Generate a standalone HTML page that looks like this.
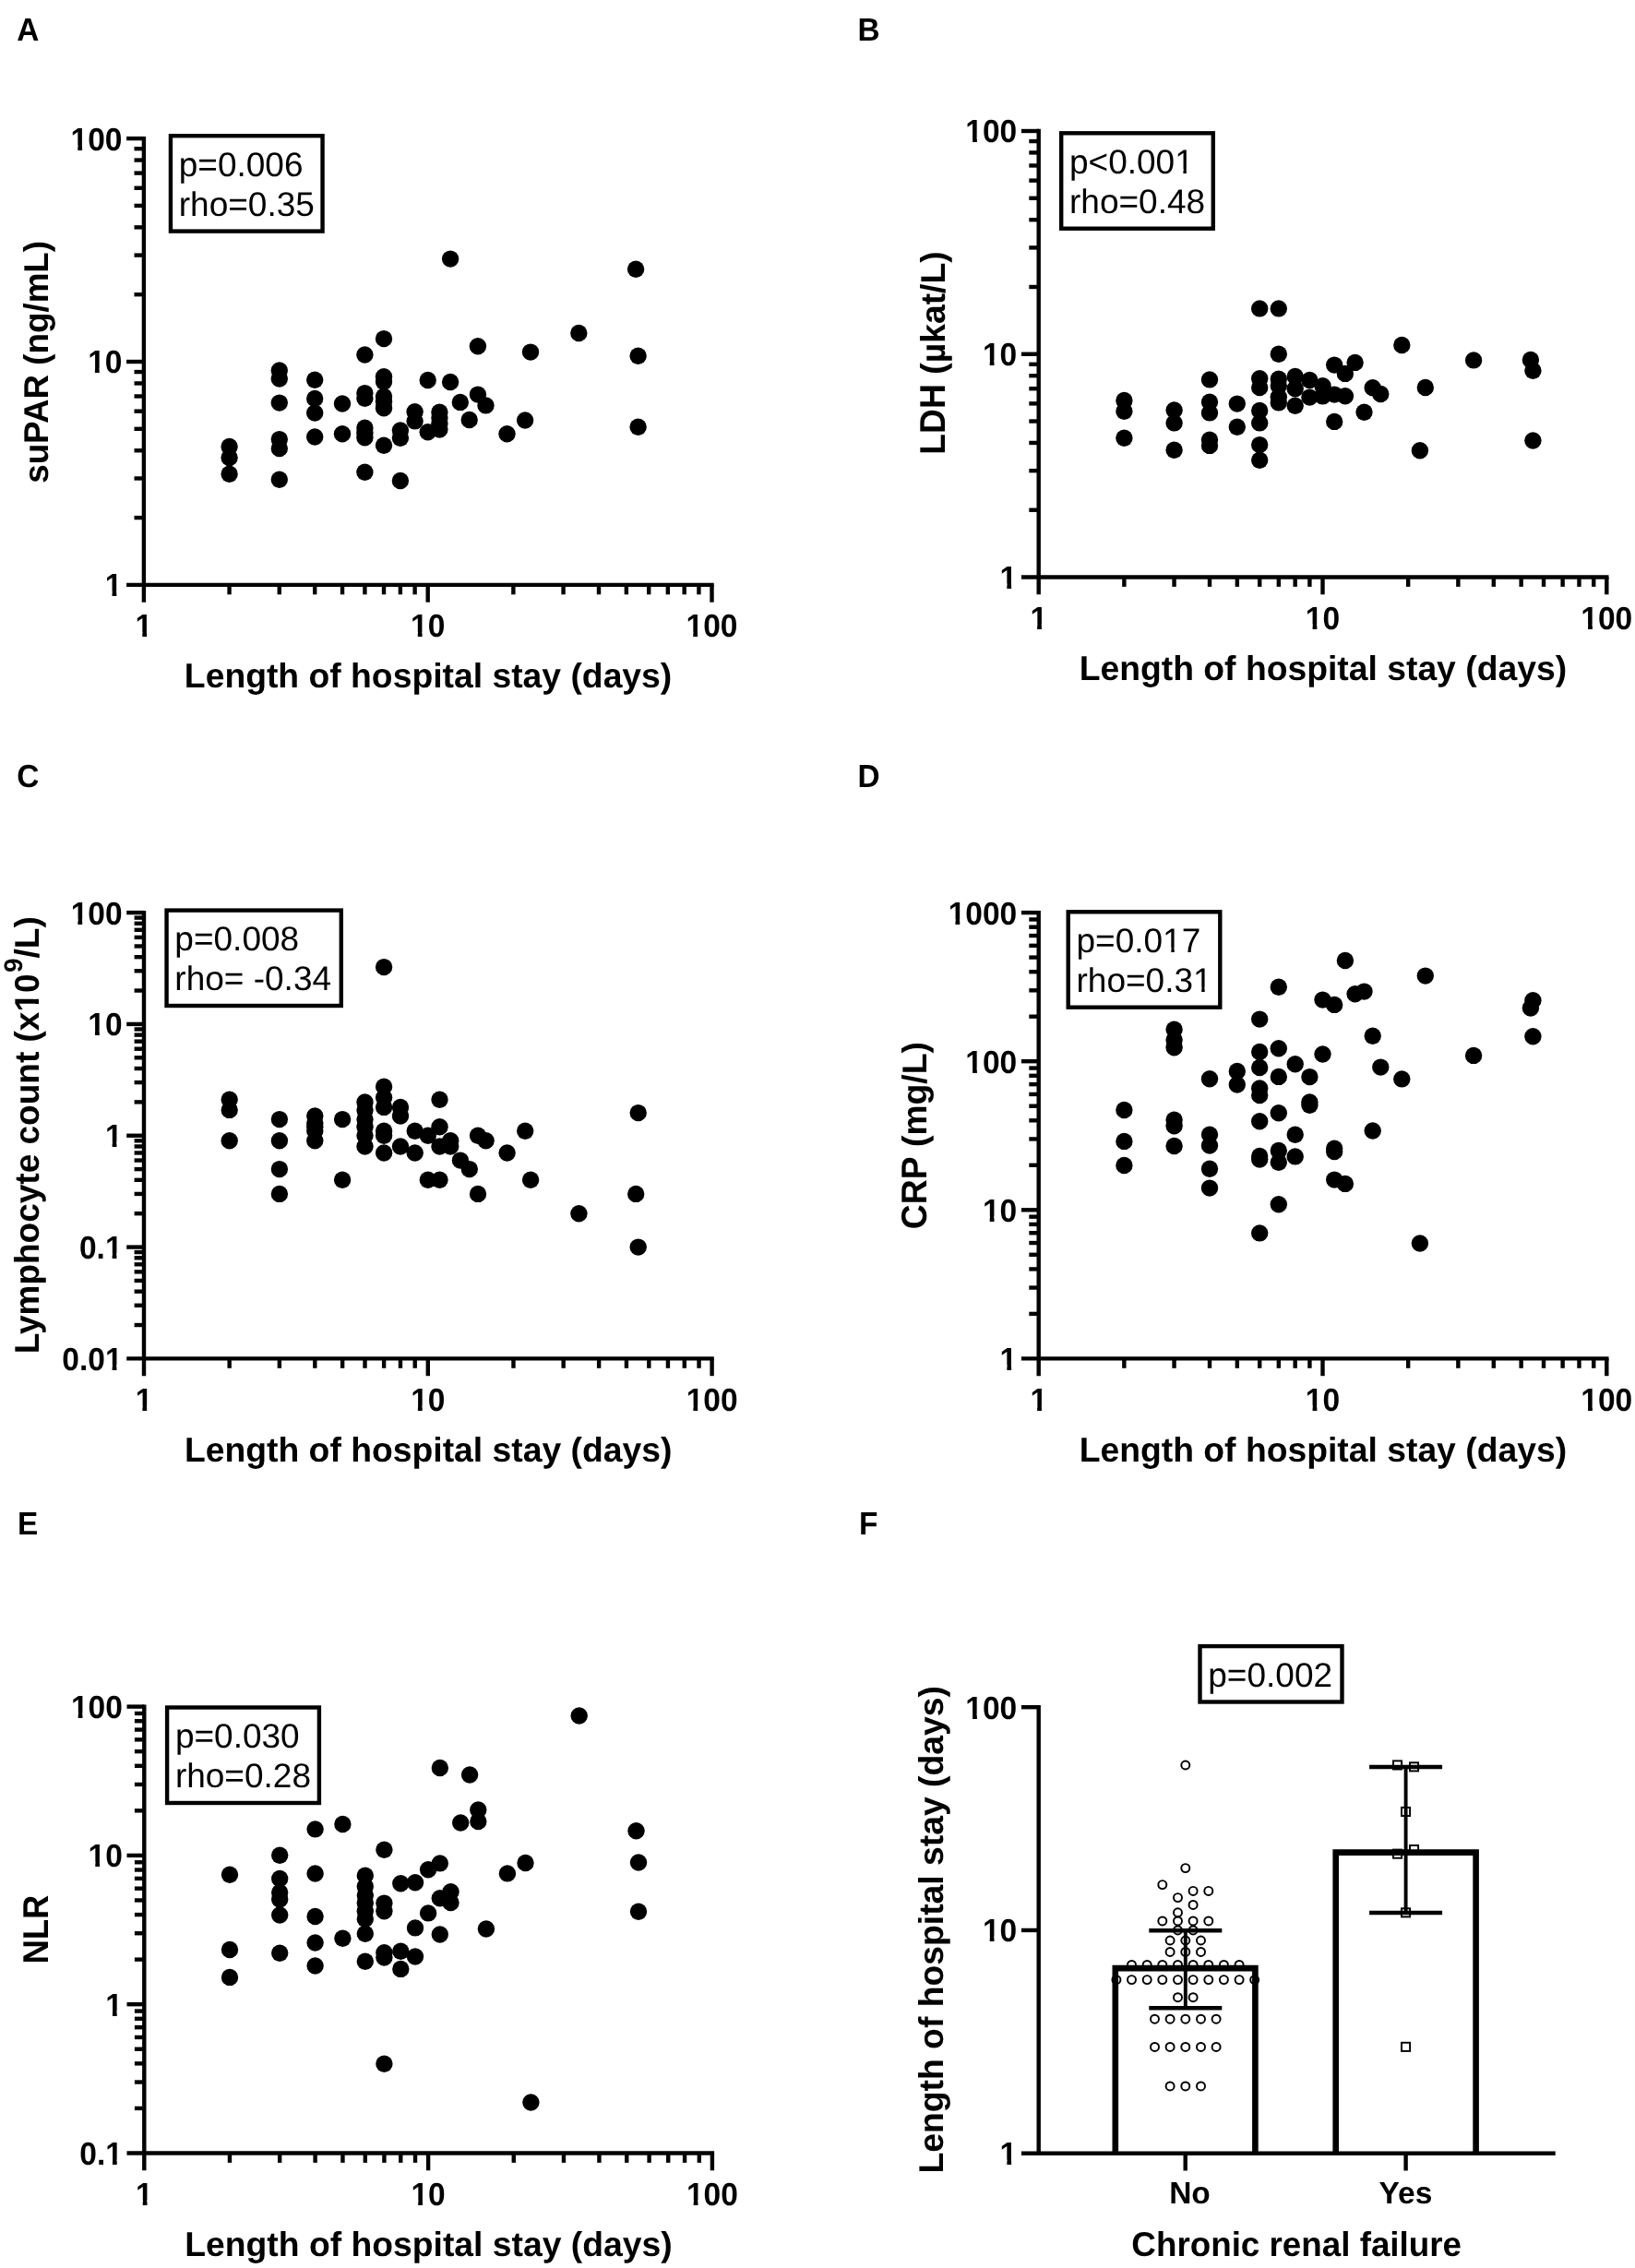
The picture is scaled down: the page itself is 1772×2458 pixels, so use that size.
<!DOCTYPE html>
<html lang="en">
<head>
<meta charset="utf-8">
<title>Figure</title>
<style>
html,body{margin:0;padding:0;background:#fff;}
body{width:1772px;height:2458px;overflow:hidden;font-family:"Liberation Sans", Arial, Helvetica, sans-serif;}
svg{display:block;filter:blur(0.45px);}
</style>
</head>
<body>
<svg width="1772" height="2458" viewBox="0 0 1772 2458" font-family='"Liberation Sans", Arial, Helvetica, sans-serif' fill="#000" text-rendering="geometricPrecision">
<rect width="1772" height="2458" fill="#fff"/>
<g id="pA">
<text x="18.30" y="44.20" font-size="34.75" font-weight="bold" textLength="24.12" lengthAdjust="spacingAndGlyphs">A</text>
<line x1="155.90" y1="147.90" x2="155.90" y2="652.70" stroke="#000" stroke-width="4.4" stroke-linecap="butt"/>
<line x1="137.10" y1="633.90" x2="773.70" y2="633.90" stroke="#000" stroke-width="4.4" stroke-linecap="butt"/>
<line x1="137.10" y1="150.10" x2="155.90" y2="150.10" stroke="#000" stroke-width="4.4" stroke-linecap="butt"/>
<line x1="145.50" y1="319.18" x2="155.90" y2="319.18" stroke="#000" stroke-width="4.4" stroke-linecap="butt"/>
<line x1="145.50" y1="276.58" x2="155.90" y2="276.58" stroke="#000" stroke-width="4.4" stroke-linecap="butt"/>
<line x1="145.50" y1="246.36" x2="155.90" y2="246.36" stroke="#000" stroke-width="4.4" stroke-linecap="butt"/>
<line x1="145.50" y1="222.92" x2="155.90" y2="222.92" stroke="#000" stroke-width="4.4" stroke-linecap="butt"/>
<line x1="145.50" y1="203.77" x2="155.90" y2="203.77" stroke="#000" stroke-width="4.4" stroke-linecap="butt"/>
<line x1="145.50" y1="187.57" x2="155.90" y2="187.57" stroke="#000" stroke-width="4.4" stroke-linecap="butt"/>
<line x1="145.50" y1="173.54" x2="155.90" y2="173.54" stroke="#000" stroke-width="4.4" stroke-linecap="butt"/>
<line x1="145.50" y1="161.17" x2="155.90" y2="161.17" stroke="#000" stroke-width="4.4" stroke-linecap="butt"/>
<text x="76.56" y="162.50" font-size="34.86" font-weight="bold" textLength="55.89" lengthAdjust="spacingAndGlyphs">100</text>
<g fill="#fff"><rect x="77.47" y="156.94" width="6.81" height="7.06"/><rect x="89.07" y="156.94" width="6.38" height="7.06"/></g>
<line x1="137.10" y1="392.00" x2="155.90" y2="392.00" stroke="#000" stroke-width="4.4" stroke-linecap="butt"/>
<line x1="145.50" y1="561.08" x2="155.90" y2="561.08" stroke="#000" stroke-width="4.4" stroke-linecap="butt"/>
<line x1="145.50" y1="518.48" x2="155.90" y2="518.48" stroke="#000" stroke-width="4.4" stroke-linecap="butt"/>
<line x1="145.50" y1="488.26" x2="155.90" y2="488.26" stroke="#000" stroke-width="4.4" stroke-linecap="butt"/>
<line x1="145.50" y1="464.82" x2="155.90" y2="464.82" stroke="#000" stroke-width="4.4" stroke-linecap="butt"/>
<line x1="145.50" y1="445.67" x2="155.90" y2="445.67" stroke="#000" stroke-width="4.4" stroke-linecap="butt"/>
<line x1="145.50" y1="429.47" x2="155.90" y2="429.47" stroke="#000" stroke-width="4.4" stroke-linecap="butt"/>
<line x1="145.50" y1="415.44" x2="155.90" y2="415.44" stroke="#000" stroke-width="4.4" stroke-linecap="butt"/>
<line x1="145.50" y1="403.07" x2="155.90" y2="403.07" stroke="#000" stroke-width="4.4" stroke-linecap="butt"/>
<text x="95.19" y="404.40" font-size="34.86" font-weight="bold" textLength="37.26" lengthAdjust="spacingAndGlyphs">10</text>
<g fill="#fff"><rect x="96.10" y="398.84" width="6.81" height="7.06"/><rect x="107.70" y="398.84" width="6.38" height="7.06"/></g>
<text x="113.82" y="646.30" font-size="34.86" font-weight="bold" textLength="18.63" lengthAdjust="spacingAndGlyphs">1</text>
<g fill="#fff"><rect x="114.73" y="640.74" width="6.81" height="7.06"/><rect x="126.33" y="640.74" width="6.38" height="7.06"/></g>
<line x1="248.56" y1="633.90" x2="248.56" y2="644.30" stroke="#000" stroke-width="4.4" stroke-linecap="butt"/>
<line x1="302.76" y1="633.90" x2="302.76" y2="644.30" stroke="#000" stroke-width="4.4" stroke-linecap="butt"/>
<line x1="341.21" y1="633.90" x2="341.21" y2="644.30" stroke="#000" stroke-width="4.4" stroke-linecap="butt"/>
<line x1="371.04" y1="633.90" x2="371.04" y2="644.30" stroke="#000" stroke-width="4.4" stroke-linecap="butt"/>
<line x1="395.41" y1="633.90" x2="395.41" y2="644.30" stroke="#000" stroke-width="4.4" stroke-linecap="butt"/>
<line x1="416.02" y1="633.90" x2="416.02" y2="644.30" stroke="#000" stroke-width="4.4" stroke-linecap="butt"/>
<line x1="433.87" y1="633.90" x2="433.87" y2="644.30" stroke="#000" stroke-width="4.4" stroke-linecap="butt"/>
<line x1="449.62" y1="633.90" x2="449.62" y2="644.30" stroke="#000" stroke-width="4.4" stroke-linecap="butt"/>
<text x="146.58" y="690.40" font-size="34.86" font-weight="bold" textLength="18.63" lengthAdjust="spacingAndGlyphs">1</text>
<g fill="#fff"><rect x="147.49" y="684.84" width="6.81" height="7.06"/><rect x="159.10" y="684.84" width="6.38" height="7.06"/></g>
<line x1="463.70" y1="633.90" x2="463.70" y2="652.70" stroke="#000" stroke-width="4.4" stroke-linecap="butt"/>
<line x1="556.36" y1="633.90" x2="556.36" y2="644.30" stroke="#000" stroke-width="4.4" stroke-linecap="butt"/>
<line x1="610.56" y1="633.90" x2="610.56" y2="644.30" stroke="#000" stroke-width="4.4" stroke-linecap="butt"/>
<line x1="649.01" y1="633.90" x2="649.01" y2="644.30" stroke="#000" stroke-width="4.4" stroke-linecap="butt"/>
<line x1="678.84" y1="633.90" x2="678.84" y2="644.30" stroke="#000" stroke-width="4.4" stroke-linecap="butt"/>
<line x1="703.21" y1="633.90" x2="703.21" y2="644.30" stroke="#000" stroke-width="4.4" stroke-linecap="butt"/>
<line x1="723.82" y1="633.90" x2="723.82" y2="644.30" stroke="#000" stroke-width="4.4" stroke-linecap="butt"/>
<line x1="741.67" y1="633.90" x2="741.67" y2="644.30" stroke="#000" stroke-width="4.4" stroke-linecap="butt"/>
<line x1="757.42" y1="633.90" x2="757.42" y2="644.30" stroke="#000" stroke-width="4.4" stroke-linecap="butt"/>
<text x="445.07" y="690.40" font-size="34.86" font-weight="bold" textLength="37.26" lengthAdjust="spacingAndGlyphs">10</text>
<g fill="#fff"><rect x="445.98" y="684.84" width="6.81" height="7.06"/><rect x="457.58" y="684.84" width="6.38" height="7.06"/></g>
<line x1="771.50" y1="633.90" x2="771.50" y2="652.70" stroke="#000" stroke-width="4.4" stroke-linecap="butt"/>
<text x="743.55" y="690.40" font-size="34.86" font-weight="bold" textLength="55.89" lengthAdjust="spacingAndGlyphs">100</text>
<g fill="#fff"><rect x="744.46" y="684.84" width="6.81" height="7.06"/><rect x="756.07" y="684.84" width="6.38" height="7.06"/></g>
<g><text xml:space="preserve" x="199.87" y="745.00" font-size="37.30" font-weight="bold">Length of hospital stay (days)</text></g>
<g transform="rotate(-90 51.70 392.40)"><text xml:space="preserve" x="-79.73" y="392.40" font-size="37.30" font-weight="bold" textLength="262.87" lengthAdjust="spacingAndGlyphs">suPAR (ng/mL)</text></g>
<rect x="184.95" y="147.20" width="164.60" height="103.40" fill="none" stroke="#000" stroke-width="4.4"/>
<text x="193.75" y="190.60" font-size="37.00">p=0.006</text>
<text x="193.75" y="233.60" font-size="37.00">rho=0.35</text>
<circle cx="248.6" cy="483.9" r="9.2"/>
<circle cx="248.6" cy="495.9" r="9.2"/>
<circle cx="248.6" cy="513.7" r="9.2"/>
<circle cx="302.8" cy="401.4" r="9.2"/>
<circle cx="302.8" cy="410.6" r="9.2"/>
<circle cx="302.8" cy="436.6" r="9.2"/>
<circle cx="302.8" cy="476.1" r="9.2"/>
<circle cx="302.8" cy="486.1" r="9.2"/>
<circle cx="302.8" cy="519.7" r="9.2"/>
<circle cx="341.2" cy="411.8" r="9.2"/>
<circle cx="341.2" cy="432.0" r="9.2"/>
<circle cx="341.2" cy="447.6" r="9.2"/>
<circle cx="341.2" cy="473.5" r="9.2"/>
<circle cx="371.0" cy="437.5" r="9.2"/>
<circle cx="371.0" cy="470.2" r="9.2"/>
<circle cx="395.4" cy="384.5" r="9.2"/>
<circle cx="395.4" cy="426.1" r="9.2"/>
<circle cx="395.4" cy="431.7" r="9.2"/>
<circle cx="395.4" cy="463.8" r="9.2"/>
<circle cx="395.4" cy="469.3" r="9.2"/>
<circle cx="395.4" cy="474.2" r="9.2"/>
<circle cx="395.4" cy="511.8" r="9.2"/>
<circle cx="416.0" cy="367.1" r="9.2"/>
<circle cx="416.0" cy="408.2" r="9.2"/>
<circle cx="416.0" cy="413.7" r="9.2"/>
<circle cx="416.0" cy="429.8" r="9.2"/>
<circle cx="416.0" cy="435.3" r="9.2"/>
<circle cx="416.0" cy="442.3" r="9.2"/>
<circle cx="416.0" cy="482.7" r="9.2"/>
<circle cx="433.9" cy="466.5" r="9.2"/>
<circle cx="433.9" cy="474.8" r="9.2"/>
<circle cx="433.9" cy="521.0" r="9.2"/>
<circle cx="449.6" cy="446.3" r="9.2"/>
<circle cx="449.6" cy="456.4" r="9.2"/>
<circle cx="463.7" cy="412.0" r="9.2"/>
<circle cx="463.7" cy="468.3" r="9.2"/>
<circle cx="476.4" cy="446.7" r="9.2"/>
<circle cx="476.4" cy="452.8" r="9.2"/>
<circle cx="476.4" cy="459.2" r="9.2"/>
<circle cx="476.4" cy="465.6" r="9.2"/>
<circle cx="488.1" cy="280.6" r="9.2"/>
<circle cx="488.1" cy="414.0" r="9.2"/>
<circle cx="498.8" cy="435.9" r="9.2"/>
<circle cx="508.7" cy="455.0" r="9.2"/>
<circle cx="517.9" cy="375.3" r="9.2"/>
<circle cx="517.9" cy="427.6" r="9.2"/>
<circle cx="526.5" cy="439.4" r="9.2"/>
<circle cx="549.5" cy="470.2" r="9.2"/>
<circle cx="569.1" cy="455.5" r="9.2"/>
<circle cx="575.0" cy="381.6" r="9.2"/>
<circle cx="627.3" cy="361.0" r="9.2"/>
<circle cx="689.1" cy="291.7" r="9.2"/>
<circle cx="691.6" cy="385.8" r="9.2"/>
<circle cx="691.6" cy="462.8" r="9.2"/>
</g>
<g id="pB">
<text x="929.40" y="44.30" font-size="34.75" font-weight="bold" textLength="24.12" lengthAdjust="spacingAndGlyphs">B</text>
<line x1="1125.70" y1="139.80" x2="1125.70" y2="644.30" stroke="#000" stroke-width="4.4" stroke-linecap="butt"/>
<line x1="1106.90" y1="625.50" x2="1743.50" y2="625.50" stroke="#000" stroke-width="4.4" stroke-linecap="butt"/>
<line x1="1106.90" y1="142.00" x2="1125.70" y2="142.00" stroke="#000" stroke-width="4.4" stroke-linecap="butt"/>
<line x1="1115.30" y1="310.98" x2="1125.70" y2="310.98" stroke="#000" stroke-width="4.4" stroke-linecap="butt"/>
<line x1="1115.30" y1="268.41" x2="1125.70" y2="268.41" stroke="#000" stroke-width="4.4" stroke-linecap="butt"/>
<line x1="1115.30" y1="238.20" x2="1125.70" y2="238.20" stroke="#000" stroke-width="4.4" stroke-linecap="butt"/>
<line x1="1115.30" y1="214.77" x2="1125.70" y2="214.77" stroke="#000" stroke-width="4.4" stroke-linecap="butt"/>
<line x1="1115.30" y1="195.63" x2="1125.70" y2="195.63" stroke="#000" stroke-width="4.4" stroke-linecap="butt"/>
<line x1="1115.30" y1="179.45" x2="1125.70" y2="179.45" stroke="#000" stroke-width="4.4" stroke-linecap="butt"/>
<line x1="1115.30" y1="165.43" x2="1125.70" y2="165.43" stroke="#000" stroke-width="4.4" stroke-linecap="butt"/>
<line x1="1115.30" y1="153.06" x2="1125.70" y2="153.06" stroke="#000" stroke-width="4.4" stroke-linecap="butt"/>
<text x="1046.36" y="154.40" font-size="34.86" font-weight="bold" textLength="55.89" lengthAdjust="spacingAndGlyphs">100</text>
<g fill="#fff"><rect x="1047.27" y="148.84" width="6.81" height="7.06"/><rect x="1058.87" y="148.84" width="6.38" height="7.06"/></g>
<line x1="1106.90" y1="383.75" x2="1125.70" y2="383.75" stroke="#000" stroke-width="4.4" stroke-linecap="butt"/>
<line x1="1115.30" y1="552.73" x2="1125.70" y2="552.73" stroke="#000" stroke-width="4.4" stroke-linecap="butt"/>
<line x1="1115.30" y1="510.16" x2="1125.70" y2="510.16" stroke="#000" stroke-width="4.4" stroke-linecap="butt"/>
<line x1="1115.30" y1="479.95" x2="1125.70" y2="479.95" stroke="#000" stroke-width="4.4" stroke-linecap="butt"/>
<line x1="1115.30" y1="456.52" x2="1125.70" y2="456.52" stroke="#000" stroke-width="4.4" stroke-linecap="butt"/>
<line x1="1115.30" y1="437.38" x2="1125.70" y2="437.38" stroke="#000" stroke-width="4.4" stroke-linecap="butt"/>
<line x1="1115.30" y1="421.20" x2="1125.70" y2="421.20" stroke="#000" stroke-width="4.4" stroke-linecap="butt"/>
<line x1="1115.30" y1="407.18" x2="1125.70" y2="407.18" stroke="#000" stroke-width="4.4" stroke-linecap="butt"/>
<line x1="1115.30" y1="394.81" x2="1125.70" y2="394.81" stroke="#000" stroke-width="4.4" stroke-linecap="butt"/>
<text x="1064.99" y="396.15" font-size="34.86" font-weight="bold" textLength="37.26" lengthAdjust="spacingAndGlyphs">10</text>
<g fill="#fff"><rect x="1065.90" y="390.59" width="6.81" height="7.06"/><rect x="1077.50" y="390.59" width="6.38" height="7.06"/></g>
<text x="1083.62" y="637.90" font-size="34.86" font-weight="bold" textLength="18.63" lengthAdjust="spacingAndGlyphs">1</text>
<g fill="#fff"><rect x="1084.53" y="632.34" width="6.81" height="7.06"/><rect x="1096.13" y="632.34" width="6.38" height="7.06"/></g>
<line x1="1218.36" y1="625.50" x2="1218.36" y2="635.90" stroke="#000" stroke-width="4.4" stroke-linecap="butt"/>
<line x1="1272.56" y1="625.50" x2="1272.56" y2="635.90" stroke="#000" stroke-width="4.4" stroke-linecap="butt"/>
<line x1="1311.01" y1="625.50" x2="1311.01" y2="635.90" stroke="#000" stroke-width="4.4" stroke-linecap="butt"/>
<line x1="1340.84" y1="625.50" x2="1340.84" y2="635.90" stroke="#000" stroke-width="4.4" stroke-linecap="butt"/>
<line x1="1365.21" y1="625.50" x2="1365.21" y2="635.90" stroke="#000" stroke-width="4.4" stroke-linecap="butt"/>
<line x1="1385.82" y1="625.50" x2="1385.82" y2="635.90" stroke="#000" stroke-width="4.4" stroke-linecap="butt"/>
<line x1="1403.67" y1="625.50" x2="1403.67" y2="635.90" stroke="#000" stroke-width="4.4" stroke-linecap="butt"/>
<line x1="1419.42" y1="625.50" x2="1419.42" y2="635.90" stroke="#000" stroke-width="4.4" stroke-linecap="butt"/>
<text x="1116.38" y="682.00" font-size="34.86" font-weight="bold" textLength="18.63" lengthAdjust="spacingAndGlyphs">1</text>
<g fill="#fff"><rect x="1117.29" y="676.44" width="6.81" height="7.06"/><rect x="1128.90" y="676.44" width="6.38" height="7.06"/></g>
<line x1="1433.50" y1="625.50" x2="1433.50" y2="644.30" stroke="#000" stroke-width="4.4" stroke-linecap="butt"/>
<line x1="1526.16" y1="625.50" x2="1526.16" y2="635.90" stroke="#000" stroke-width="4.4" stroke-linecap="butt"/>
<line x1="1580.36" y1="625.50" x2="1580.36" y2="635.90" stroke="#000" stroke-width="4.4" stroke-linecap="butt"/>
<line x1="1618.81" y1="625.50" x2="1618.81" y2="635.90" stroke="#000" stroke-width="4.4" stroke-linecap="butt"/>
<line x1="1648.64" y1="625.50" x2="1648.64" y2="635.90" stroke="#000" stroke-width="4.4" stroke-linecap="butt"/>
<line x1="1673.01" y1="625.50" x2="1673.01" y2="635.90" stroke="#000" stroke-width="4.4" stroke-linecap="butt"/>
<line x1="1693.62" y1="625.50" x2="1693.62" y2="635.90" stroke="#000" stroke-width="4.4" stroke-linecap="butt"/>
<line x1="1711.47" y1="625.50" x2="1711.47" y2="635.90" stroke="#000" stroke-width="4.4" stroke-linecap="butt"/>
<line x1="1727.22" y1="625.50" x2="1727.22" y2="635.90" stroke="#000" stroke-width="4.4" stroke-linecap="butt"/>
<text x="1414.87" y="682.00" font-size="34.86" font-weight="bold" textLength="37.26" lengthAdjust="spacingAndGlyphs">10</text>
<g fill="#fff"><rect x="1415.78" y="676.44" width="6.81" height="7.06"/><rect x="1427.38" y="676.44" width="6.38" height="7.06"/></g>
<line x1="1741.30" y1="625.50" x2="1741.30" y2="644.30" stroke="#000" stroke-width="4.4" stroke-linecap="butt"/>
<text x="1713.35" y="682.00" font-size="34.86" font-weight="bold" textLength="55.89" lengthAdjust="spacingAndGlyphs">100</text>
<g fill="#fff"><rect x="1714.26" y="676.44" width="6.81" height="7.06"/><rect x="1725.87" y="676.44" width="6.38" height="7.06"/></g>
<g><text xml:space="preserve" x="1169.67" y="736.60" font-size="37.30" font-weight="bold">Length of hospital stay (days)</text></g>
<g transform="rotate(-90 1023.60 382.50)"><text xml:space="preserve" x="913.39" y="382.50" font-size="38.81" font-weight="bold" textLength="76.66" lengthAdjust="spacingAndGlyphs">LDH</text><text xml:space="preserve" x="990.05" y="382.50" font-size="37.30" font-weight="bold"> (µkat/L)</text></g>
<rect x="1150.20" y="144.30" width="164.60" height="103.40" fill="none" stroke="#000" stroke-width="4.4"/>
<text x="1159.00" y="187.70" font-size="37.00">p&lt;0.001</text>
<g fill="#fff"><rect x="1274.82" y="182.94" width="7.59" height="6.26"/><rect x="1285.87" y="182.94" width="7.30" height="6.26"/></g>
<text x="1159.00" y="230.70" font-size="37.00">rho=0.48</text>
<circle cx="1218.4" cy="434.0" r="9.2"/>
<circle cx="1218.4" cy="445.7" r="9.2"/>
<circle cx="1218.4" cy="474.8" r="9.2"/>
<circle cx="1272.6" cy="444.5" r="9.2"/>
<circle cx="1272.6" cy="458.4" r="9.2"/>
<circle cx="1272.6" cy="487.8" r="9.2"/>
<circle cx="1311.0" cy="411.4" r="9.2"/>
<circle cx="1311.0" cy="435.7" r="9.2"/>
<circle cx="1311.0" cy="447.4" r="9.2"/>
<circle cx="1311.0" cy="476.8" r="9.2"/>
<circle cx="1311.0" cy="482.9" r="9.2"/>
<circle cx="1340.8" cy="437.6" r="9.2"/>
<circle cx="1340.8" cy="462.8" r="9.2"/>
<circle cx="1365.2" cy="334.4" r="9.2"/>
<circle cx="1365.2" cy="410.2" r="9.2"/>
<circle cx="1365.2" cy="420.0" r="9.2"/>
<circle cx="1365.2" cy="445.0" r="9.2"/>
<circle cx="1365.2" cy="458.4" r="9.2"/>
<circle cx="1365.2" cy="482.1" r="9.2"/>
<circle cx="1365.2" cy="498.8" r="9.2"/>
<circle cx="1385.8" cy="334.4" r="9.2"/>
<circle cx="1385.8" cy="383.8" r="9.2"/>
<circle cx="1385.8" cy="410.7" r="9.2"/>
<circle cx="1385.8" cy="418.0" r="9.2"/>
<circle cx="1385.8" cy="430.3" r="9.2"/>
<circle cx="1385.8" cy="436.4" r="9.2"/>
<circle cx="1403.7" cy="408.0" r="9.2"/>
<circle cx="1403.7" cy="421.2" r="9.2"/>
<circle cx="1403.7" cy="439.8" r="9.2"/>
<circle cx="1419.4" cy="412.0" r="9.2"/>
<circle cx="1419.4" cy="430.6" r="9.2"/>
<circle cx="1433.5" cy="418.2" r="9.2"/>
<circle cx="1433.5" cy="429.4" r="9.2"/>
<circle cx="1446.2" cy="395.6" r="9.2"/>
<circle cx="1446.2" cy="427.6" r="9.2"/>
<circle cx="1446.2" cy="456.9" r="9.2"/>
<circle cx="1457.9" cy="404.9" r="9.2"/>
<circle cx="1457.9" cy="429.2" r="9.2"/>
<circle cx="1468.6" cy="392.9" r="9.2"/>
<circle cx="1478.5" cy="446.8" r="9.2"/>
<circle cx="1487.7" cy="420.3" r="9.2"/>
<circle cx="1496.3" cy="427.0" r="9.2"/>
<circle cx="1519.3" cy="374.0" r="9.2"/>
<circle cx="1538.9" cy="488.2" r="9.2"/>
<circle cx="1544.8" cy="420.0" r="9.2"/>
<circle cx="1597.1" cy="390.4" r="9.2"/>
<circle cx="1658.9" cy="389.9" r="9.2"/>
<circle cx="1661.4" cy="401.8" r="9.2"/>
<circle cx="1661.4" cy="477.5" r="9.2"/>
</g>
<g id="pC">
<text x="18.20" y="853.30" font-size="34.75" font-weight="bold" textLength="24.12" lengthAdjust="spacingAndGlyphs">C</text>
<line x1="156.00" y1="986.90" x2="156.00" y2="1491.20" stroke="#000" stroke-width="4.4" stroke-linecap="butt"/>
<line x1="137.20" y1="1472.40" x2="773.80" y2="1472.40" stroke="#000" stroke-width="4.4" stroke-linecap="butt"/>
<line x1="137.20" y1="989.10" x2="156.00" y2="989.10" stroke="#000" stroke-width="4.4" stroke-linecap="butt"/>
<line x1="145.60" y1="1073.55" x2="156.00" y2="1073.55" stroke="#000" stroke-width="4.4" stroke-linecap="butt"/>
<line x1="145.60" y1="1052.28" x2="156.00" y2="1052.28" stroke="#000" stroke-width="4.4" stroke-linecap="butt"/>
<line x1="145.60" y1="1037.18" x2="156.00" y2="1037.18" stroke="#000" stroke-width="4.4" stroke-linecap="butt"/>
<line x1="145.60" y1="1025.47" x2="156.00" y2="1025.47" stroke="#000" stroke-width="4.4" stroke-linecap="butt"/>
<line x1="145.60" y1="1015.90" x2="156.00" y2="1015.90" stroke="#000" stroke-width="4.4" stroke-linecap="butt"/>
<line x1="145.60" y1="1007.82" x2="156.00" y2="1007.82" stroke="#000" stroke-width="4.4" stroke-linecap="butt"/>
<line x1="145.60" y1="1000.81" x2="156.00" y2="1000.81" stroke="#000" stroke-width="4.4" stroke-linecap="butt"/>
<line x1="145.60" y1="994.63" x2="156.00" y2="994.63" stroke="#000" stroke-width="4.4" stroke-linecap="butt"/>
<text x="76.66" y="1001.50" font-size="34.86" font-weight="bold" textLength="55.89" lengthAdjust="spacingAndGlyphs">100</text>
<g fill="#fff"><rect x="77.57" y="995.94" width="6.81" height="7.06"/><rect x="89.17" y="995.94" width="6.38" height="7.06"/></g>
<line x1="137.20" y1="1109.92" x2="156.00" y2="1109.92" stroke="#000" stroke-width="4.4" stroke-linecap="butt"/>
<line x1="145.60" y1="1194.38" x2="156.00" y2="1194.38" stroke="#000" stroke-width="4.4" stroke-linecap="butt"/>
<line x1="145.60" y1="1173.10" x2="156.00" y2="1173.10" stroke="#000" stroke-width="4.4" stroke-linecap="butt"/>
<line x1="145.60" y1="1158.01" x2="156.00" y2="1158.01" stroke="#000" stroke-width="4.4" stroke-linecap="butt"/>
<line x1="145.60" y1="1146.30" x2="156.00" y2="1146.30" stroke="#000" stroke-width="4.4" stroke-linecap="butt"/>
<line x1="145.60" y1="1136.73" x2="156.00" y2="1136.73" stroke="#000" stroke-width="4.4" stroke-linecap="butt"/>
<line x1="145.60" y1="1128.64" x2="156.00" y2="1128.64" stroke="#000" stroke-width="4.4" stroke-linecap="butt"/>
<line x1="145.60" y1="1121.63" x2="156.00" y2="1121.63" stroke="#000" stroke-width="4.4" stroke-linecap="butt"/>
<line x1="145.60" y1="1115.45" x2="156.00" y2="1115.45" stroke="#000" stroke-width="4.4" stroke-linecap="butt"/>
<text x="95.29" y="1122.33" font-size="34.86" font-weight="bold" textLength="37.26" lengthAdjust="spacingAndGlyphs">10</text>
<g fill="#fff"><rect x="96.20" y="1116.77" width="6.81" height="7.06"/><rect x="107.80" y="1116.77" width="6.38" height="7.06"/></g>
<line x1="137.20" y1="1230.75" x2="156.00" y2="1230.75" stroke="#000" stroke-width="4.4" stroke-linecap="butt"/>
<line x1="145.60" y1="1315.20" x2="156.00" y2="1315.20" stroke="#000" stroke-width="4.4" stroke-linecap="butt"/>
<line x1="145.60" y1="1293.93" x2="156.00" y2="1293.93" stroke="#000" stroke-width="4.4" stroke-linecap="butt"/>
<line x1="145.60" y1="1278.83" x2="156.00" y2="1278.83" stroke="#000" stroke-width="4.4" stroke-linecap="butt"/>
<line x1="145.60" y1="1267.12" x2="156.00" y2="1267.12" stroke="#000" stroke-width="4.4" stroke-linecap="butt"/>
<line x1="145.60" y1="1257.55" x2="156.00" y2="1257.55" stroke="#000" stroke-width="4.4" stroke-linecap="butt"/>
<line x1="145.60" y1="1249.47" x2="156.00" y2="1249.47" stroke="#000" stroke-width="4.4" stroke-linecap="butt"/>
<line x1="145.60" y1="1242.46" x2="156.00" y2="1242.46" stroke="#000" stroke-width="4.4" stroke-linecap="butt"/>
<line x1="145.60" y1="1236.28" x2="156.00" y2="1236.28" stroke="#000" stroke-width="4.4" stroke-linecap="butt"/>
<text x="113.92" y="1243.15" font-size="34.86" font-weight="bold" textLength="18.63" lengthAdjust="spacingAndGlyphs">1</text>
<g fill="#fff"><rect x="114.83" y="1237.59" width="6.81" height="7.06"/><rect x="126.43" y="1237.59" width="6.38" height="7.06"/></g>
<line x1="137.20" y1="1351.58" x2="156.00" y2="1351.58" stroke="#000" stroke-width="4.4" stroke-linecap="butt"/>
<line x1="145.60" y1="1436.03" x2="156.00" y2="1436.03" stroke="#000" stroke-width="4.4" stroke-linecap="butt"/>
<line x1="145.60" y1="1414.75" x2="156.00" y2="1414.75" stroke="#000" stroke-width="4.4" stroke-linecap="butt"/>
<line x1="145.60" y1="1399.66" x2="156.00" y2="1399.66" stroke="#000" stroke-width="4.4" stroke-linecap="butt"/>
<line x1="145.60" y1="1387.95" x2="156.00" y2="1387.95" stroke="#000" stroke-width="4.4" stroke-linecap="butt"/>
<line x1="145.60" y1="1378.38" x2="156.00" y2="1378.38" stroke="#000" stroke-width="4.4" stroke-linecap="butt"/>
<line x1="145.60" y1="1370.29" x2="156.00" y2="1370.29" stroke="#000" stroke-width="4.4" stroke-linecap="butt"/>
<line x1="145.60" y1="1363.28" x2="156.00" y2="1363.28" stroke="#000" stroke-width="4.4" stroke-linecap="butt"/>
<line x1="145.60" y1="1357.10" x2="156.00" y2="1357.10" stroke="#000" stroke-width="4.4" stroke-linecap="butt"/>
<text x="85.98" y="1363.98" font-size="34.86" font-weight="bold" textLength="46.57" lengthAdjust="spacingAndGlyphs">0.1</text>
<g fill="#fff"><rect x="114.83" y="1358.42" width="6.81" height="7.06"/><rect x="126.43" y="1358.42" width="6.38" height="7.06"/></g>
<text x="67.35" y="1484.80" font-size="34.86" font-weight="bold" textLength="65.20" lengthAdjust="spacingAndGlyphs">0.01</text>
<g fill="#fff"><rect x="114.83" y="1479.24" width="6.81" height="7.06"/><rect x="126.43" y="1479.24" width="6.38" height="7.06"/></g>
<line x1="248.66" y1="1472.40" x2="248.66" y2="1482.80" stroke="#000" stroke-width="4.4" stroke-linecap="butt"/>
<line x1="302.86" y1="1472.40" x2="302.86" y2="1482.80" stroke="#000" stroke-width="4.4" stroke-linecap="butt"/>
<line x1="341.31" y1="1472.40" x2="341.31" y2="1482.80" stroke="#000" stroke-width="4.4" stroke-linecap="butt"/>
<line x1="371.14" y1="1472.40" x2="371.14" y2="1482.80" stroke="#000" stroke-width="4.4" stroke-linecap="butt"/>
<line x1="395.51" y1="1472.40" x2="395.51" y2="1482.80" stroke="#000" stroke-width="4.4" stroke-linecap="butt"/>
<line x1="416.12" y1="1472.40" x2="416.12" y2="1482.80" stroke="#000" stroke-width="4.4" stroke-linecap="butt"/>
<line x1="433.97" y1="1472.40" x2="433.97" y2="1482.80" stroke="#000" stroke-width="4.4" stroke-linecap="butt"/>
<line x1="449.72" y1="1472.40" x2="449.72" y2="1482.80" stroke="#000" stroke-width="4.4" stroke-linecap="butt"/>
<text x="146.68" y="1528.90" font-size="34.86" font-weight="bold" textLength="18.63" lengthAdjust="spacingAndGlyphs">1</text>
<g fill="#fff"><rect x="147.59" y="1523.34" width="6.81" height="7.06"/><rect x="159.20" y="1523.34" width="6.38" height="7.06"/></g>
<line x1="463.80" y1="1472.40" x2="463.80" y2="1491.20" stroke="#000" stroke-width="4.4" stroke-linecap="butt"/>
<line x1="556.46" y1="1472.40" x2="556.46" y2="1482.80" stroke="#000" stroke-width="4.4" stroke-linecap="butt"/>
<line x1="610.66" y1="1472.40" x2="610.66" y2="1482.80" stroke="#000" stroke-width="4.4" stroke-linecap="butt"/>
<line x1="649.11" y1="1472.40" x2="649.11" y2="1482.80" stroke="#000" stroke-width="4.4" stroke-linecap="butt"/>
<line x1="678.94" y1="1472.40" x2="678.94" y2="1482.80" stroke="#000" stroke-width="4.4" stroke-linecap="butt"/>
<line x1="703.31" y1="1472.40" x2="703.31" y2="1482.80" stroke="#000" stroke-width="4.4" stroke-linecap="butt"/>
<line x1="723.92" y1="1472.40" x2="723.92" y2="1482.80" stroke="#000" stroke-width="4.4" stroke-linecap="butt"/>
<line x1="741.77" y1="1472.40" x2="741.77" y2="1482.80" stroke="#000" stroke-width="4.4" stroke-linecap="butt"/>
<line x1="757.52" y1="1472.40" x2="757.52" y2="1482.80" stroke="#000" stroke-width="4.4" stroke-linecap="butt"/>
<text x="445.17" y="1528.90" font-size="34.86" font-weight="bold" textLength="37.26" lengthAdjust="spacingAndGlyphs">10</text>
<g fill="#fff"><rect x="446.08" y="1523.34" width="6.81" height="7.06"/><rect x="457.68" y="1523.34" width="6.38" height="7.06"/></g>
<line x1="771.60" y1="1472.40" x2="771.60" y2="1491.20" stroke="#000" stroke-width="4.4" stroke-linecap="butt"/>
<text x="743.65" y="1528.90" font-size="34.86" font-weight="bold" textLength="55.89" lengthAdjust="spacingAndGlyphs">100</text>
<g fill="#fff"><rect x="744.56" y="1523.34" width="6.81" height="7.06"/><rect x="756.17" y="1523.34" width="6.38" height="7.06"/></g>
<g><text xml:space="preserve" x="199.97" y="1583.50" font-size="37.30" font-weight="bold">Length of hospital stay (days)</text></g>
<text x="-194.64" y="1230.3" font-size="37.3" font-weight="bold" transform="rotate(-90 42.4 1230.3)" textLength="474.09" lengthAdjust="spacingAndGlyphs">Lymphocyte count (x10<tspan dx="1.5" dy="-18.2" font-size="28.09">9</tspan><tspan dy="18.2">/L)</tspan></text>
<g fill="#fff" transform="rotate(-90 42.4 1230.3)"><rect x="177.23" y="1224.49" width="7.41" height="7.31"/><rect x="189.91" y="1224.49" width="6.94" height="7.31"/></g>
<rect x="180.55" y="986.60" width="189.25" height="103.40" fill="none" stroke="#000" stroke-width="4.4"/>
<text x="189.35" y="1030.00" font-size="37.00">p=0.008</text>
<text x="189.35" y="1073.00" font-size="37.00">rho= -0.34</text>
<circle cx="248.7" cy="1191.8" r="9.2"/>
<circle cx="248.7" cy="1202.9" r="9.2"/>
<circle cx="248.7" cy="1236.3" r="9.2"/>
<circle cx="302.9" cy="1213.1" r="9.2"/>
<circle cx="302.9" cy="1236.3" r="9.2"/>
<circle cx="302.9" cy="1267.1" r="9.2"/>
<circle cx="302.9" cy="1293.9" r="9.2"/>
<circle cx="341.3" cy="1209.5" r="9.2"/>
<circle cx="341.3" cy="1217.0" r="9.2"/>
<circle cx="341.3" cy="1225.7" r="9.2"/>
<circle cx="341.3" cy="1236.3" r="9.2"/>
<circle cx="341.3" cy="1221.2" r="9.2"/>
<circle cx="371.1" cy="1213.1" r="9.2"/>
<circle cx="371.1" cy="1278.8" r="9.2"/>
<circle cx="395.5" cy="1194.4" r="9.2"/>
<circle cx="395.5" cy="1202.9" r="9.2"/>
<circle cx="395.5" cy="1213.1" r="9.2"/>
<circle cx="395.5" cy="1221.2" r="9.2"/>
<circle cx="395.5" cy="1230.8" r="9.2"/>
<circle cx="395.5" cy="1242.5" r="9.2"/>
<circle cx="416.1" cy="1048.1" r="9.2"/>
<circle cx="416.1" cy="1177.7" r="9.2"/>
<circle cx="416.1" cy="1189.4" r="9.2"/>
<circle cx="416.1" cy="1199.9" r="9.2"/>
<circle cx="416.1" cy="1225.7" r="9.2"/>
<circle cx="416.1" cy="1230.8" r="9.2"/>
<circle cx="416.1" cy="1249.5" r="9.2"/>
<circle cx="434.0" cy="1199.9" r="9.2"/>
<circle cx="434.0" cy="1209.5" r="9.2"/>
<circle cx="434.0" cy="1242.5" r="9.2"/>
<circle cx="449.7" cy="1225.7" r="9.2"/>
<circle cx="449.7" cy="1249.5" r="9.2"/>
<circle cx="463.8" cy="1230.8" r="9.2"/>
<circle cx="463.8" cy="1278.8" r="9.2"/>
<circle cx="476.5" cy="1191.8" r="9.2"/>
<circle cx="476.5" cy="1221.2" r="9.2"/>
<circle cx="476.5" cy="1242.5" r="9.2"/>
<circle cx="476.5" cy="1278.8" r="9.2"/>
<circle cx="488.2" cy="1236.3" r="9.2"/>
<circle cx="488.2" cy="1242.5" r="9.2"/>
<circle cx="498.9" cy="1257.6" r="9.2"/>
<circle cx="508.8" cy="1267.1" r="9.2"/>
<circle cx="518.0" cy="1230.8" r="9.2"/>
<circle cx="518.0" cy="1293.9" r="9.2"/>
<circle cx="526.6" cy="1236.3" r="9.2"/>
<circle cx="549.6" cy="1249.5" r="9.2"/>
<circle cx="569.2" cy="1225.7" r="9.2"/>
<circle cx="575.1" cy="1278.8" r="9.2"/>
<circle cx="627.4" cy="1315.2" r="9.2"/>
<circle cx="689.2" cy="1293.9" r="9.2"/>
<circle cx="691.7" cy="1206.1" r="9.2"/>
<circle cx="691.7" cy="1351.6" r="9.2"/>
</g>
<g id="pD">
<text x="929.40" y="853.30" font-size="34.75" font-weight="bold" textLength="24.12" lengthAdjust="spacingAndGlyphs">D</text>
<line x1="1125.70" y1="986.90" x2="1125.70" y2="1491.20" stroke="#000" stroke-width="4.4" stroke-linecap="butt"/>
<line x1="1106.90" y1="1472.40" x2="1743.50" y2="1472.40" stroke="#000" stroke-width="4.4" stroke-linecap="butt"/>
<line x1="1106.90" y1="989.10" x2="1125.70" y2="989.10" stroke="#000" stroke-width="4.4" stroke-linecap="butt"/>
<line x1="1115.30" y1="1101.70" x2="1125.70" y2="1101.70" stroke="#000" stroke-width="4.4" stroke-linecap="butt"/>
<line x1="1115.30" y1="1073.34" x2="1125.70" y2="1073.34" stroke="#000" stroke-width="4.4" stroke-linecap="butt"/>
<line x1="1115.30" y1="1053.21" x2="1125.70" y2="1053.21" stroke="#000" stroke-width="4.4" stroke-linecap="butt"/>
<line x1="1115.30" y1="1037.60" x2="1125.70" y2="1037.60" stroke="#000" stroke-width="4.4" stroke-linecap="butt"/>
<line x1="1115.30" y1="1024.84" x2="1125.70" y2="1024.84" stroke="#000" stroke-width="4.4" stroke-linecap="butt"/>
<line x1="1115.30" y1="1014.05" x2="1125.70" y2="1014.05" stroke="#000" stroke-width="4.4" stroke-linecap="butt"/>
<line x1="1115.30" y1="1004.71" x2="1125.70" y2="1004.71" stroke="#000" stroke-width="4.4" stroke-linecap="butt"/>
<line x1="1115.30" y1="996.47" x2="1125.70" y2="996.47" stroke="#000" stroke-width="4.4" stroke-linecap="butt"/>
<text x="1027.73" y="1001.50" font-size="34.86" font-weight="bold" textLength="74.52" lengthAdjust="spacingAndGlyphs">1000</text>
<g fill="#fff"><rect x="1028.64" y="995.94" width="6.81" height="7.06"/><rect x="1040.24" y="995.94" width="6.38" height="7.06"/></g>
<line x1="1106.90" y1="1150.20" x2="1125.70" y2="1150.20" stroke="#000" stroke-width="4.4" stroke-linecap="butt"/>
<line x1="1115.30" y1="1262.80" x2="1125.70" y2="1262.80" stroke="#000" stroke-width="4.4" stroke-linecap="butt"/>
<line x1="1115.30" y1="1234.44" x2="1125.70" y2="1234.44" stroke="#000" stroke-width="4.4" stroke-linecap="butt"/>
<line x1="1115.30" y1="1214.31" x2="1125.70" y2="1214.31" stroke="#000" stroke-width="4.4" stroke-linecap="butt"/>
<line x1="1115.30" y1="1198.70" x2="1125.70" y2="1198.70" stroke="#000" stroke-width="4.4" stroke-linecap="butt"/>
<line x1="1115.30" y1="1185.94" x2="1125.70" y2="1185.94" stroke="#000" stroke-width="4.4" stroke-linecap="butt"/>
<line x1="1115.30" y1="1175.15" x2="1125.70" y2="1175.15" stroke="#000" stroke-width="4.4" stroke-linecap="butt"/>
<line x1="1115.30" y1="1165.81" x2="1125.70" y2="1165.81" stroke="#000" stroke-width="4.4" stroke-linecap="butt"/>
<line x1="1115.30" y1="1157.57" x2="1125.70" y2="1157.57" stroke="#000" stroke-width="4.4" stroke-linecap="butt"/>
<text x="1046.36" y="1162.60" font-size="34.86" font-weight="bold" textLength="55.89" lengthAdjust="spacingAndGlyphs">100</text>
<g fill="#fff"><rect x="1047.27" y="1157.04" width="6.81" height="7.06"/><rect x="1058.87" y="1157.04" width="6.38" height="7.06"/></g>
<line x1="1106.90" y1="1311.30" x2="1125.70" y2="1311.30" stroke="#000" stroke-width="4.4" stroke-linecap="butt"/>
<line x1="1115.30" y1="1423.90" x2="1125.70" y2="1423.90" stroke="#000" stroke-width="4.4" stroke-linecap="butt"/>
<line x1="1115.30" y1="1395.54" x2="1125.70" y2="1395.54" stroke="#000" stroke-width="4.4" stroke-linecap="butt"/>
<line x1="1115.30" y1="1375.41" x2="1125.70" y2="1375.41" stroke="#000" stroke-width="4.4" stroke-linecap="butt"/>
<line x1="1115.30" y1="1359.80" x2="1125.70" y2="1359.80" stroke="#000" stroke-width="4.4" stroke-linecap="butt"/>
<line x1="1115.30" y1="1347.04" x2="1125.70" y2="1347.04" stroke="#000" stroke-width="4.4" stroke-linecap="butt"/>
<line x1="1115.30" y1="1336.25" x2="1125.70" y2="1336.25" stroke="#000" stroke-width="4.4" stroke-linecap="butt"/>
<line x1="1115.30" y1="1326.91" x2="1125.70" y2="1326.91" stroke="#000" stroke-width="4.4" stroke-linecap="butt"/>
<line x1="1115.30" y1="1318.67" x2="1125.70" y2="1318.67" stroke="#000" stroke-width="4.4" stroke-linecap="butt"/>
<text x="1064.99" y="1323.70" font-size="34.86" font-weight="bold" textLength="37.26" lengthAdjust="spacingAndGlyphs">10</text>
<g fill="#fff"><rect x="1065.90" y="1318.14" width="6.81" height="7.06"/><rect x="1077.50" y="1318.14" width="6.38" height="7.06"/></g>
<text x="1083.62" y="1484.80" font-size="34.86" font-weight="bold" textLength="18.63" lengthAdjust="spacingAndGlyphs">1</text>
<g fill="#fff"><rect x="1084.53" y="1479.24" width="6.81" height="7.06"/><rect x="1096.13" y="1479.24" width="6.38" height="7.06"/></g>
<line x1="1218.36" y1="1472.40" x2="1218.36" y2="1482.80" stroke="#000" stroke-width="4.4" stroke-linecap="butt"/>
<line x1="1272.56" y1="1472.40" x2="1272.56" y2="1482.80" stroke="#000" stroke-width="4.4" stroke-linecap="butt"/>
<line x1="1311.01" y1="1472.40" x2="1311.01" y2="1482.80" stroke="#000" stroke-width="4.4" stroke-linecap="butt"/>
<line x1="1340.84" y1="1472.40" x2="1340.84" y2="1482.80" stroke="#000" stroke-width="4.4" stroke-linecap="butt"/>
<line x1="1365.21" y1="1472.40" x2="1365.21" y2="1482.80" stroke="#000" stroke-width="4.4" stroke-linecap="butt"/>
<line x1="1385.82" y1="1472.40" x2="1385.82" y2="1482.80" stroke="#000" stroke-width="4.4" stroke-linecap="butt"/>
<line x1="1403.67" y1="1472.40" x2="1403.67" y2="1482.80" stroke="#000" stroke-width="4.4" stroke-linecap="butt"/>
<line x1="1419.42" y1="1472.40" x2="1419.42" y2="1482.80" stroke="#000" stroke-width="4.4" stroke-linecap="butt"/>
<text x="1116.38" y="1528.90" font-size="34.86" font-weight="bold" textLength="18.63" lengthAdjust="spacingAndGlyphs">1</text>
<g fill="#fff"><rect x="1117.29" y="1523.34" width="6.81" height="7.06"/><rect x="1128.90" y="1523.34" width="6.38" height="7.06"/></g>
<line x1="1433.50" y1="1472.40" x2="1433.50" y2="1491.20" stroke="#000" stroke-width="4.4" stroke-linecap="butt"/>
<line x1="1526.16" y1="1472.40" x2="1526.16" y2="1482.80" stroke="#000" stroke-width="4.4" stroke-linecap="butt"/>
<line x1="1580.36" y1="1472.40" x2="1580.36" y2="1482.80" stroke="#000" stroke-width="4.4" stroke-linecap="butt"/>
<line x1="1618.81" y1="1472.40" x2="1618.81" y2="1482.80" stroke="#000" stroke-width="4.4" stroke-linecap="butt"/>
<line x1="1648.64" y1="1472.40" x2="1648.64" y2="1482.80" stroke="#000" stroke-width="4.4" stroke-linecap="butt"/>
<line x1="1673.01" y1="1472.40" x2="1673.01" y2="1482.80" stroke="#000" stroke-width="4.4" stroke-linecap="butt"/>
<line x1="1693.62" y1="1472.40" x2="1693.62" y2="1482.80" stroke="#000" stroke-width="4.4" stroke-linecap="butt"/>
<line x1="1711.47" y1="1472.40" x2="1711.47" y2="1482.80" stroke="#000" stroke-width="4.4" stroke-linecap="butt"/>
<line x1="1727.22" y1="1472.40" x2="1727.22" y2="1482.80" stroke="#000" stroke-width="4.4" stroke-linecap="butt"/>
<text x="1414.87" y="1528.90" font-size="34.86" font-weight="bold" textLength="37.26" lengthAdjust="spacingAndGlyphs">10</text>
<g fill="#fff"><rect x="1415.78" y="1523.34" width="6.81" height="7.06"/><rect x="1427.38" y="1523.34" width="6.38" height="7.06"/></g>
<line x1="1741.30" y1="1472.40" x2="1741.30" y2="1491.20" stroke="#000" stroke-width="4.4" stroke-linecap="butt"/>
<text x="1713.35" y="1528.90" font-size="34.86" font-weight="bold" textLength="55.89" lengthAdjust="spacingAndGlyphs">100</text>
<g fill="#fff"><rect x="1714.26" y="1523.34" width="6.81" height="7.06"/><rect x="1725.87" y="1523.34" width="6.38" height="7.06"/></g>
<g><text xml:space="preserve" x="1169.67" y="1583.50" font-size="37.30" font-weight="bold">Length of hospital stay (days)</text></g>
<g transform="rotate(-90 1004.00 1230.60)"><text xml:space="preserve" x="902.47" y="1230.60" font-size="38.81" font-weight="bold" textLength="78.75" lengthAdjust="spacingAndGlyphs">CRP</text><text xml:space="preserve" x="981.22" y="1230.60" font-size="37.30" font-weight="bold"> (mg/L)</text></g>
<rect x="1157.70" y="988.30" width="164.60" height="103.40" fill="none" stroke="#000" stroke-width="4.4"/>
<text x="1166.50" y="1031.70" font-size="37.00">p=0.017</text>
<g fill="#fff"><rect x="1261.74" y="1026.94" width="7.59" height="6.26"/><rect x="1272.79" y="1026.94" width="7.30" height="6.26"/></g>
<text x="1166.50" y="1074.70" font-size="37.00">rho=0.31</text>
<g fill="#fff"><rect x="1294.64" y="1069.94" width="7.59" height="6.26"/><rect x="1305.69" y="1069.94" width="7.30" height="6.26"/></g>
<circle cx="1218.4" cy="1203.0" r="9.2"/>
<circle cx="1218.4" cy="1236.9" r="9.2"/>
<circle cx="1218.4" cy="1263.0" r="9.2"/>
<circle cx="1272.6" cy="1115.7" r="9.2"/>
<circle cx="1272.6" cy="1127.0" r="9.2"/>
<circle cx="1272.6" cy="1135.2" r="9.2"/>
<circle cx="1272.6" cy="1213.7" r="9.2"/>
<circle cx="1272.6" cy="1220.2" r="9.2"/>
<circle cx="1272.6" cy="1242.0" r="9.2"/>
<circle cx="1311.0" cy="1169.2" r="9.2"/>
<circle cx="1311.0" cy="1229.8" r="9.2"/>
<circle cx="1311.0" cy="1241.6" r="9.2"/>
<circle cx="1311.0" cy="1266.8" r="9.2"/>
<circle cx="1311.0" cy="1287.6" r="9.2"/>
<circle cx="1340.8" cy="1160.9" r="9.2"/>
<circle cx="1340.8" cy="1175.6" r="9.2"/>
<circle cx="1365.2" cy="1104.6" r="9.2"/>
<circle cx="1365.2" cy="1139.9" r="9.2"/>
<circle cx="1365.2" cy="1157.0" r="9.2"/>
<circle cx="1365.2" cy="1179.5" r="9.2"/>
<circle cx="1365.2" cy="1187.0" r="9.2"/>
<circle cx="1365.2" cy="1215.2" r="9.2"/>
<circle cx="1365.2" cy="1253.0" r="9.2"/>
<circle cx="1365.2" cy="1256.5" r="9.2"/>
<circle cx="1365.2" cy="1336.4" r="9.2"/>
<circle cx="1385.8" cy="1069.7" r="9.2"/>
<circle cx="1385.8" cy="1136.2" r="9.2"/>
<circle cx="1385.8" cy="1166.9" r="9.2"/>
<circle cx="1385.8" cy="1206.3" r="9.2"/>
<circle cx="1385.8" cy="1246.9" r="9.2"/>
<circle cx="1385.8" cy="1259.8" r="9.2"/>
<circle cx="1385.8" cy="1305.2" r="9.2"/>
<circle cx="1403.7" cy="1153.2" r="9.2"/>
<circle cx="1403.7" cy="1229.8" r="9.2"/>
<circle cx="1403.7" cy="1253.4" r="9.2"/>
<circle cx="1419.4" cy="1167.1" r="9.2"/>
<circle cx="1419.4" cy="1194.5" r="9.2"/>
<circle cx="1419.4" cy="1197.7" r="9.2"/>
<circle cx="1433.5" cy="1083.6" r="9.2"/>
<circle cx="1433.5" cy="1142.5" r="9.2"/>
<circle cx="1446.2" cy="1088.9" r="9.2"/>
<circle cx="1446.2" cy="1244.8" r="9.2"/>
<circle cx="1446.2" cy="1248.0" r="9.2"/>
<circle cx="1446.2" cy="1278.6" r="9.2"/>
<circle cx="1457.9" cy="1041.0" r="9.2"/>
<circle cx="1457.9" cy="1282.9" r="9.2"/>
<circle cx="1468.6" cy="1077.2" r="9.2"/>
<circle cx="1478.5" cy="1074.6" r="9.2"/>
<circle cx="1487.7" cy="1122.8" r="9.2"/>
<circle cx="1487.7" cy="1225.5" r="9.2"/>
<circle cx="1496.3" cy="1156.6" r="9.2"/>
<circle cx="1519.3" cy="1169.4" r="9.2"/>
<circle cx="1538.9" cy="1347.5" r="9.2"/>
<circle cx="1544.8" cy="1057.6" r="9.2"/>
<circle cx="1597.1" cy="1143.9" r="9.2"/>
<circle cx="1658.9" cy="1092.5" r="9.2"/>
<circle cx="1661.4" cy="1084.2" r="9.2"/>
<circle cx="1661.4" cy="1123.3" r="9.2"/>
</g>
<g id="pE">
<text x="19.00" y="1663.20" font-size="34.75" font-weight="bold" textLength="22.28" lengthAdjust="spacingAndGlyphs">E</text>
<line x1="156.30" y1="1847.40" x2="156.30" y2="2352.30" stroke="#000" stroke-width="4.4" stroke-linecap="butt"/>
<line x1="137.50" y1="2333.50" x2="774.10" y2="2333.50" stroke="#000" stroke-width="4.4" stroke-linecap="butt"/>
<line x1="137.50" y1="1849.60" x2="156.30" y2="1849.60" stroke="#000" stroke-width="4.4" stroke-linecap="butt"/>
<line x1="145.90" y1="1962.34" x2="156.30" y2="1962.34" stroke="#000" stroke-width="4.4" stroke-linecap="butt"/>
<line x1="145.90" y1="1933.94" x2="156.30" y2="1933.94" stroke="#000" stroke-width="4.4" stroke-linecap="butt"/>
<line x1="145.90" y1="1913.79" x2="156.30" y2="1913.79" stroke="#000" stroke-width="4.4" stroke-linecap="butt"/>
<line x1="145.90" y1="1898.16" x2="156.30" y2="1898.16" stroke="#000" stroke-width="4.4" stroke-linecap="butt"/>
<line x1="145.90" y1="1885.38" x2="156.30" y2="1885.38" stroke="#000" stroke-width="4.4" stroke-linecap="butt"/>
<line x1="145.90" y1="1874.59" x2="156.30" y2="1874.59" stroke="#000" stroke-width="4.4" stroke-linecap="butt"/>
<line x1="145.90" y1="1865.23" x2="156.30" y2="1865.23" stroke="#000" stroke-width="4.4" stroke-linecap="butt"/>
<line x1="145.90" y1="1856.98" x2="156.30" y2="1856.98" stroke="#000" stroke-width="4.4" stroke-linecap="butt"/>
<text x="76.96" y="1862.00" font-size="34.86" font-weight="bold" textLength="55.89" lengthAdjust="spacingAndGlyphs">100</text>
<g fill="#fff"><rect x="77.87" y="1856.44" width="6.81" height="7.06"/><rect x="89.47" y="1856.44" width="6.38" height="7.06"/></g>
<line x1="137.50" y1="2010.90" x2="156.30" y2="2010.90" stroke="#000" stroke-width="4.4" stroke-linecap="butt"/>
<line x1="145.90" y1="2123.64" x2="156.30" y2="2123.64" stroke="#000" stroke-width="4.4" stroke-linecap="butt"/>
<line x1="145.90" y1="2095.24" x2="156.30" y2="2095.24" stroke="#000" stroke-width="4.4" stroke-linecap="butt"/>
<line x1="145.90" y1="2075.09" x2="156.30" y2="2075.09" stroke="#000" stroke-width="4.4" stroke-linecap="butt"/>
<line x1="145.90" y1="2059.46" x2="156.30" y2="2059.46" stroke="#000" stroke-width="4.4" stroke-linecap="butt"/>
<line x1="145.90" y1="2046.68" x2="156.30" y2="2046.68" stroke="#000" stroke-width="4.4" stroke-linecap="butt"/>
<line x1="145.90" y1="2035.89" x2="156.30" y2="2035.89" stroke="#000" stroke-width="4.4" stroke-linecap="butt"/>
<line x1="145.90" y1="2026.53" x2="156.30" y2="2026.53" stroke="#000" stroke-width="4.4" stroke-linecap="butt"/>
<line x1="145.90" y1="2018.28" x2="156.30" y2="2018.28" stroke="#000" stroke-width="4.4" stroke-linecap="butt"/>
<text x="95.59" y="2023.30" font-size="34.86" font-weight="bold" textLength="37.26" lengthAdjust="spacingAndGlyphs">10</text>
<g fill="#fff"><rect x="96.50" y="2017.74" width="6.81" height="7.06"/><rect x="108.10" y="2017.74" width="6.38" height="7.06"/></g>
<line x1="137.50" y1="2172.20" x2="156.30" y2="2172.20" stroke="#000" stroke-width="4.4" stroke-linecap="butt"/>
<line x1="145.90" y1="2284.94" x2="156.30" y2="2284.94" stroke="#000" stroke-width="4.4" stroke-linecap="butt"/>
<line x1="145.90" y1="2256.54" x2="156.30" y2="2256.54" stroke="#000" stroke-width="4.4" stroke-linecap="butt"/>
<line x1="145.90" y1="2236.39" x2="156.30" y2="2236.39" stroke="#000" stroke-width="4.4" stroke-linecap="butt"/>
<line x1="145.90" y1="2220.76" x2="156.30" y2="2220.76" stroke="#000" stroke-width="4.4" stroke-linecap="butt"/>
<line x1="145.90" y1="2207.98" x2="156.30" y2="2207.98" stroke="#000" stroke-width="4.4" stroke-linecap="butt"/>
<line x1="145.90" y1="2197.19" x2="156.30" y2="2197.19" stroke="#000" stroke-width="4.4" stroke-linecap="butt"/>
<line x1="145.90" y1="2187.83" x2="156.30" y2="2187.83" stroke="#000" stroke-width="4.4" stroke-linecap="butt"/>
<line x1="145.90" y1="2179.58" x2="156.30" y2="2179.58" stroke="#000" stroke-width="4.4" stroke-linecap="butt"/>
<text x="114.22" y="2184.60" font-size="34.86" font-weight="bold" textLength="18.63" lengthAdjust="spacingAndGlyphs">1</text>
<g fill="#fff"><rect x="115.13" y="2179.04" width="6.81" height="7.06"/><rect x="126.73" y="2179.04" width="6.38" height="7.06"/></g>
<text x="86.28" y="2345.90" font-size="34.86" font-weight="bold" textLength="46.57" lengthAdjust="spacingAndGlyphs">0.1</text>
<g fill="#fff"><rect x="115.13" y="2340.34" width="6.81" height="7.06"/><rect x="126.73" y="2340.34" width="6.38" height="7.06"/></g>
<line x1="248.96" y1="2333.50" x2="248.96" y2="2343.90" stroke="#000" stroke-width="4.4" stroke-linecap="butt"/>
<line x1="303.16" y1="2333.50" x2="303.16" y2="2343.90" stroke="#000" stroke-width="4.4" stroke-linecap="butt"/>
<line x1="341.61" y1="2333.50" x2="341.61" y2="2343.90" stroke="#000" stroke-width="4.4" stroke-linecap="butt"/>
<line x1="371.44" y1="2333.50" x2="371.44" y2="2343.90" stroke="#000" stroke-width="4.4" stroke-linecap="butt"/>
<line x1="395.81" y1="2333.50" x2="395.81" y2="2343.90" stroke="#000" stroke-width="4.4" stroke-linecap="butt"/>
<line x1="416.42" y1="2333.50" x2="416.42" y2="2343.90" stroke="#000" stroke-width="4.4" stroke-linecap="butt"/>
<line x1="434.27" y1="2333.50" x2="434.27" y2="2343.90" stroke="#000" stroke-width="4.4" stroke-linecap="butt"/>
<line x1="450.02" y1="2333.50" x2="450.02" y2="2343.90" stroke="#000" stroke-width="4.4" stroke-linecap="butt"/>
<text x="146.98" y="2390.00" font-size="34.86" font-weight="bold" textLength="18.63" lengthAdjust="spacingAndGlyphs">1</text>
<g fill="#fff"><rect x="147.89" y="2384.44" width="6.81" height="7.06"/><rect x="159.50" y="2384.44" width="6.38" height="7.06"/></g>
<line x1="464.10" y1="2333.50" x2="464.10" y2="2352.30" stroke="#000" stroke-width="4.4" stroke-linecap="butt"/>
<line x1="556.76" y1="2333.50" x2="556.76" y2="2343.90" stroke="#000" stroke-width="4.4" stroke-linecap="butt"/>
<line x1="610.96" y1="2333.50" x2="610.96" y2="2343.90" stroke="#000" stroke-width="4.4" stroke-linecap="butt"/>
<line x1="649.41" y1="2333.50" x2="649.41" y2="2343.90" stroke="#000" stroke-width="4.4" stroke-linecap="butt"/>
<line x1="679.24" y1="2333.50" x2="679.24" y2="2343.90" stroke="#000" stroke-width="4.4" stroke-linecap="butt"/>
<line x1="703.61" y1="2333.50" x2="703.61" y2="2343.90" stroke="#000" stroke-width="4.4" stroke-linecap="butt"/>
<line x1="724.22" y1="2333.50" x2="724.22" y2="2343.90" stroke="#000" stroke-width="4.4" stroke-linecap="butt"/>
<line x1="742.07" y1="2333.50" x2="742.07" y2="2343.90" stroke="#000" stroke-width="4.4" stroke-linecap="butt"/>
<line x1="757.82" y1="2333.50" x2="757.82" y2="2343.90" stroke="#000" stroke-width="4.4" stroke-linecap="butt"/>
<text x="445.47" y="2390.00" font-size="34.86" font-weight="bold" textLength="37.26" lengthAdjust="spacingAndGlyphs">10</text>
<g fill="#fff"><rect x="446.38" y="2384.44" width="6.81" height="7.06"/><rect x="457.98" y="2384.44" width="6.38" height="7.06"/></g>
<line x1="771.90" y1="2333.50" x2="771.90" y2="2352.30" stroke="#000" stroke-width="4.4" stroke-linecap="butt"/>
<text x="743.95" y="2390.00" font-size="34.86" font-weight="bold" textLength="55.89" lengthAdjust="spacingAndGlyphs">100</text>
<g fill="#fff"><rect x="744.86" y="2384.44" width="6.81" height="7.06"/><rect x="756.47" y="2384.44" width="6.38" height="7.06"/></g>
<g><text xml:space="preserve" x="200.27" y="2444.60" font-size="37.30" font-weight="bold">Length of hospital stay (days)</text></g>
<text x="14.41" y="2091.00" font-size="38.81" font-weight="bold" transform="rotate(-90 51.90 2091.00)" textLength="74.97" lengthAdjust="spacingAndGlyphs">NLR</text>
<rect x="181.10" y="1850.50" width="164.80" height="103.50" fill="none" stroke="#000" stroke-width="4.4"/>
<text x="189.90" y="1893.90" font-size="37.00">p=0.030</text>
<text x="189.90" y="1936.90" font-size="37.00">rho=0.28</text>
<circle cx="249.0" cy="2031.8" r="9.2"/>
<circle cx="249.0" cy="2113.0" r="9.2"/>
<circle cx="249.0" cy="2142.9" r="9.2"/>
<circle cx="303.2" cy="2010.8" r="9.2"/>
<circle cx="303.2" cy="2035.9" r="9.2"/>
<circle cx="303.2" cy="2050.9" r="9.2"/>
<circle cx="303.2" cy="2058.4" r="9.2"/>
<circle cx="303.2" cy="2075.5" r="9.2"/>
<circle cx="303.2" cy="2116.8" r="9.2"/>
<circle cx="341.6" cy="1982.4" r="9.2"/>
<circle cx="341.6" cy="2030.5" r="9.2"/>
<circle cx="341.6" cy="2077.0" r="9.2"/>
<circle cx="341.6" cy="2105.5" r="9.2"/>
<circle cx="341.6" cy="2130.5" r="9.2"/>
<circle cx="371.4" cy="1977.0" r="9.2"/>
<circle cx="371.4" cy="2100.8" r="9.2"/>
<circle cx="395.8" cy="2032.7" r="9.2"/>
<circle cx="395.8" cy="2044.5" r="9.2"/>
<circle cx="395.8" cy="2054.1" r="9.2"/>
<circle cx="395.8" cy="2062.6" r="9.2"/>
<circle cx="395.8" cy="2071.2" r="9.2"/>
<circle cx="395.8" cy="2079.8" r="9.2"/>
<circle cx="395.8" cy="2095.8" r="9.2"/>
<circle cx="395.8" cy="2125.8" r="9.2"/>
<circle cx="416.4" cy="2004.8" r="9.2"/>
<circle cx="416.4" cy="2062.6" r="9.2"/>
<circle cx="416.4" cy="2071.2" r="9.2"/>
<circle cx="416.4" cy="2116.2" r="9.2"/>
<circle cx="416.4" cy="2121.5" r="9.2"/>
<circle cx="416.4" cy="2236.7" r="9.2"/>
<circle cx="434.3" cy="2041.2" r="9.2"/>
<circle cx="434.3" cy="2114.7" r="9.2"/>
<circle cx="434.3" cy="2133.9" r="9.2"/>
<circle cx="450.0" cy="2040.2" r="9.2"/>
<circle cx="450.0" cy="2089.4" r="9.2"/>
<circle cx="450.0" cy="2120.5" r="9.2"/>
<circle cx="464.1" cy="2026.3" r="9.2"/>
<circle cx="464.1" cy="2073.4" r="9.2"/>
<circle cx="476.8" cy="1916.0" r="9.2"/>
<circle cx="476.8" cy="2019.4" r="9.2"/>
<circle cx="476.8" cy="2057.3" r="9.2"/>
<circle cx="476.8" cy="2096.5" r="9.2"/>
<circle cx="488.5" cy="2050.2" r="9.2"/>
<circle cx="488.5" cy="2062.0" r="9.2"/>
<circle cx="499.2" cy="1975.5" r="9.2"/>
<circle cx="509.1" cy="1923.5" r="9.2"/>
<circle cx="518.3" cy="1961.5" r="9.2"/>
<circle cx="518.3" cy="1974.0" r="9.2"/>
<circle cx="526.9" cy="2090.5" r="9.2"/>
<circle cx="549.9" cy="2030.4" r="9.2"/>
<circle cx="569.5" cy="2019.0" r="9.2"/>
<circle cx="575.4" cy="2278.5" r="9.2"/>
<circle cx="627.7" cy="1859.5" r="9.2"/>
<circle cx="689.5" cy="1984.2" r="9.2"/>
<circle cx="692.0" cy="2018.5" r="9.2"/>
<circle cx="692.0" cy="2071.8" r="9.2"/>
</g>
<g id="pF">
<text x="930.90" y="1663.20" font-size="34.75" font-weight="bold" textLength="20.40" lengthAdjust="spacingAndGlyphs">F</text>
<line x1="1125.70" y1="1848.00" x2="1125.70" y2="2335.90" stroke="#000" stroke-width="4.4" stroke-linecap="butt"/>
<line x1="1106.90" y1="2333.70" x2="1685.70" y2="2333.70" stroke="#000" stroke-width="4.4" stroke-linecap="butt"/>
<line x1="1106.90" y1="1850.20" x2="1125.70" y2="1850.20" stroke="#000" stroke-width="4.4" stroke-linecap="butt"/>
<text x="1046.36" y="1862.60" font-size="34.86" font-weight="bold" textLength="55.89" lengthAdjust="spacingAndGlyphs">100</text>
<g fill="#fff"><rect x="1047.27" y="1857.04" width="6.81" height="7.06"/><rect x="1058.87" y="1857.04" width="6.38" height="7.06"/></g>
<line x1="1106.90" y1="2091.95" x2="1125.70" y2="2091.95" stroke="#000" stroke-width="4.4" stroke-linecap="butt"/>
<text x="1064.99" y="2104.35" font-size="34.86" font-weight="bold" textLength="37.26" lengthAdjust="spacingAndGlyphs">10</text>
<g fill="#fff"><rect x="1065.90" y="2098.79" width="6.81" height="7.06"/><rect x="1077.50" y="2098.79" width="6.38" height="7.06"/></g>
<text x="1083.62" y="2346.10" font-size="34.86" font-weight="bold" textLength="18.63" lengthAdjust="spacingAndGlyphs">1</text>
<g fill="#fff"><rect x="1084.53" y="2340.54" width="6.81" height="7.06"/><rect x="1096.13" y="2340.54" width="6.38" height="7.06"/></g>
<path d="M1208.80 2333.70 V2133.10 H1360.40 V2333.70" fill="none" stroke="#000" stroke-width="6.6"/>
<path d="M1447.70 2333.70 V2007.60 H1599.60 V2333.70" fill="none" stroke="#000" stroke-width="6.6"/>
<line x1="1284.70" y1="2333.70" x2="1284.70" y2="2352.50" stroke="#000" stroke-width="4.4" stroke-linecap="butt"/>
<g><text xml:space="preserve" x="1267.17" y="2388.40" font-size="33.50" font-weight="bold">No</text></g>
<line x1="1523.60" y1="2333.70" x2="1523.60" y2="2352.50" stroke="#000" stroke-width="4.4" stroke-linecap="butt"/>
<g><text xml:space="preserve" x="1494.62" y="2388.40" font-size="33.50" font-weight="bold">Yes</text></g>
<g><text xml:space="preserve" x="1226.37" y="2444.80" font-size="37.30" font-weight="bold" textLength="357.65" lengthAdjust="spacingAndGlyphs">Chronic renal failure</text></g>
<g transform="rotate(-90 1022.40 2091.30)"><text xml:space="preserve" x="758.17" y="2091.30" font-size="37.30" font-weight="bold">Length of hospital stay (days)</text></g>
<rect x="1300.50" y="1784.10" width="154.00" height="60.40" fill="none" stroke="#000" stroke-width="4.4"/>
<text x="1309.30" y="1827.50" font-size="37.00">p=0.002</text>
<g fill="none" stroke="#000" stroke-width="1.95">
<circle cx="1268.1" cy="2260.9" r="4.5"/>
<circle cx="1284.8" cy="2260.9" r="4.5"/>
<circle cx="1301.5" cy="2260.9" r="4.5"/>
<circle cx="1251.5" cy="2218.4" r="4.5"/>
<circle cx="1268.1" cy="2218.4" r="4.5"/>
<circle cx="1284.8" cy="2218.4" r="4.5"/>
<circle cx="1301.5" cy="2218.4" r="4.5"/>
<circle cx="1318.1" cy="2218.4" r="4.5"/>
<circle cx="1251.5" cy="2188.2" r="4.5"/>
<circle cx="1268.1" cy="2188.2" r="4.5"/>
<circle cx="1284.8" cy="2188.2" r="4.5"/>
<circle cx="1301.5" cy="2188.2" r="4.5"/>
<circle cx="1318.1" cy="2188.2" r="4.5"/>
<circle cx="1276.5" cy="2164.7" r="4.5"/>
<circle cx="1293.1" cy="2164.7" r="4.5"/>
<circle cx="1209.9" cy="2145.6" r="4.5"/>
<circle cx="1226.5" cy="2145.6" r="4.5"/>
<circle cx="1243.2" cy="2145.6" r="4.5"/>
<circle cx="1259.8" cy="2145.6" r="4.5"/>
<circle cx="1276.5" cy="2145.6" r="4.5"/>
<circle cx="1293.1" cy="2145.6" r="4.5"/>
<circle cx="1309.8" cy="2145.6" r="4.5"/>
<circle cx="1326.4" cy="2145.6" r="4.5"/>
<circle cx="1343.1" cy="2145.6" r="4.5"/>
<circle cx="1359.7" cy="2145.6" r="4.5"/>
<circle cx="1226.5" cy="2129.4" r="4.5"/>
<circle cx="1243.2" cy="2129.4" r="4.5"/>
<circle cx="1259.8" cy="2129.4" r="4.5"/>
<circle cx="1276.5" cy="2129.4" r="4.5"/>
<circle cx="1293.1" cy="2129.4" r="4.5"/>
<circle cx="1309.8" cy="2129.4" r="4.5"/>
<circle cx="1326.4" cy="2129.4" r="4.5"/>
<circle cx="1343.1" cy="2129.4" r="4.5"/>
<circle cx="1268.1" cy="2115.4" r="4.5"/>
<circle cx="1284.8" cy="2115.4" r="4.5"/>
<circle cx="1301.5" cy="2115.4" r="4.5"/>
<circle cx="1268.1" cy="2103.0" r="4.5"/>
<circle cx="1284.8" cy="2103.0" r="4.5"/>
<circle cx="1301.5" cy="2103.0" r="4.5"/>
<circle cx="1276.5" cy="2091.9" r="4.5"/>
<circle cx="1293.1" cy="2091.9" r="4.5"/>
<circle cx="1259.8" cy="2081.9" r="4.5"/>
<circle cx="1276.5" cy="2081.9" r="4.5"/>
<circle cx="1293.1" cy="2081.9" r="4.5"/>
<circle cx="1309.8" cy="2081.9" r="4.5"/>
<circle cx="1276.5" cy="2072.8" r="4.5"/>
<circle cx="1293.1" cy="2064.4" r="4.5"/>
<circle cx="1276.5" cy="2056.6" r="4.5"/>
<circle cx="1293.1" cy="2049.4" r="4.5"/>
<circle cx="1309.8" cy="2049.4" r="4.5"/>
<circle cx="1259.8" cy="2042.6" r="4.5"/>
<circle cx="1284.8" cy="2024.6" r="4.5"/>
<circle cx="1284.8" cy="1913.0" r="4.5"/>
<rect x="1510.0" y="1908.4" width="9.1" height="9.1"/>
<rect x="1528.0" y="1910.3" width="9.1" height="9.1"/>
<rect x="1519.0" y="1958.9" width="9.1" height="9.1"/>
<rect x="1528.0" y="2000.0" width="9.1" height="9.1"/>
<rect x="1510.0" y="2004.6" width="9.1" height="9.1"/>
<rect x="1519.0" y="2068.3" width="9.1" height="9.1"/>
<rect x="1519.0" y="2213.8" width="9.1" height="9.1"/>
</g>
<line x1="1284.80" y1="2092.20" x2="1284.80" y2="2176.20" stroke="#000" stroke-width="3.9" stroke-linecap="butt"/>
<line x1="1245.30" y1="2092.20" x2="1324.30" y2="2092.20" stroke="#000" stroke-width="4.5" stroke-linecap="butt"/>
<line x1="1245.30" y1="2176.20" x2="1324.30" y2="2176.20" stroke="#000" stroke-width="4.5" stroke-linecap="butt"/>
<line x1="1523.60" y1="1914.90" x2="1523.60" y2="2073.10" stroke="#000" stroke-width="3.9" stroke-linecap="butt"/>
<line x1="1484.10" y1="1914.90" x2="1563.10" y2="1914.90" stroke="#000" stroke-width="4.5" stroke-linecap="butt"/>
<line x1="1484.10" y1="2073.10" x2="1563.10" y2="2073.10" stroke="#000" stroke-width="4.5" stroke-linecap="butt"/>
</g>
</svg>
</body>
</html>
